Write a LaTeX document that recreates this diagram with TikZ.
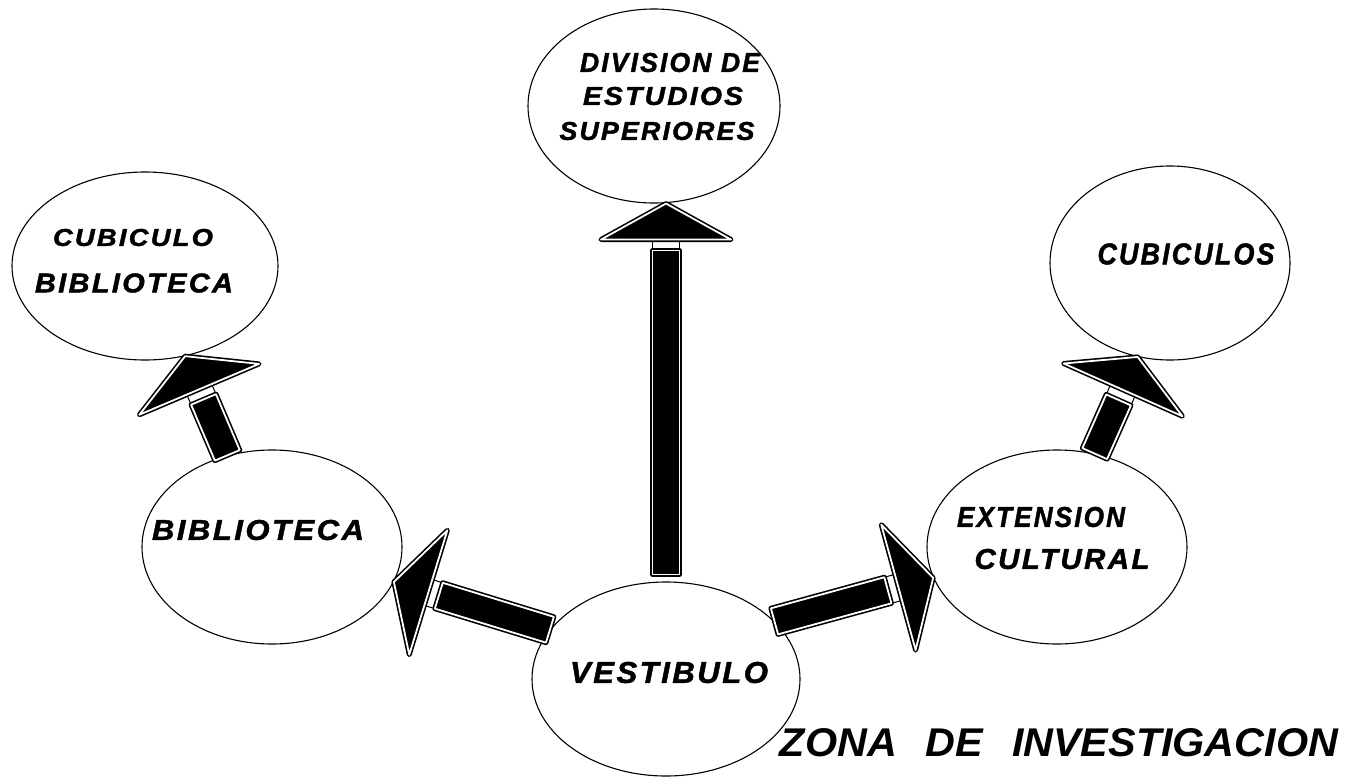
\documentclass[tikz,border=0pt]{standalone}
\usepackage{fontspec}
\setmainfont{Liberation Sans}
\usepackage{graphicx}
\usetikzlibrary{calc,shapes.geometric}
\newcommand\lbl[3]{\resizebox{#1pt}{#2pt}{\bfseries\itshape\addfontfeatures{LetterSpace=8,FakeBold=1.5}#3}}
\newcommand\blockarrow[2]{%
  \coordinate (ba-T) at (#1);
  \coordinate (ba-H) at (#2);
  \coordinate (ba-M) at ($(ba-H)!36pt!(ba-T)$);
  \coordinate (ba-N) at ($(ba-M)!11pt!(ba-T)$);
  \coordinate (ba-h1) at ($(ba-M)!65pt!90:(ba-H)$);
  \coordinate (ba-h2) at ($(ba-M)!65pt!-90:(ba-H)$);
  \coordinate (ba-m1) at ($(ba-M)!13.5pt!90:(ba-H)$);
  \coordinate (ba-m2) at ($(ba-M)!13.5pt!-90:(ba-H)$);
  \coordinate (ba-n1) at ($(ba-N)!13.5pt!90:(ba-M)$);
  \coordinate (ba-n2) at ($(ba-N)!13.5pt!-90:(ba-M)$);
  \coordinate (ba-t1) at ($(ba-T)!13.5pt!90:(ba-N)$);
  \coordinate (ba-t2) at ($(ba-T)!13.5pt!-90:(ba-N)$);
  \draw[neckbox] (ba-m1) -- (ba-n1) -- (ba-n2) -- (ba-m2) -- cycle;
  \draw[blk] (ba-n1) -- (ba-t1) -- (ba-t2) -- (ba-n2) -- cycle;
  \draw[blkline] (ba-n1) -- (ba-t1) -- (ba-t2) -- (ba-n2) -- cycle;
  \draw[blk] (ba-H) -- (ba-h1) -- (ba-h2) -- cycle;
  \draw[blkline] (ba-H) -- (ba-h1) -- (ba-h2) -- cycle;
}
\begin{document}
\begin{tikzpicture}[x=1pt,y=-1pt,
  room/.style={draw, line width=1.1pt, ellipse, inner sep=0pt},
  blk/.style={fill=black, draw=black, line width=5pt, line join=round},
  blkline/.style={draw=white, line width=1.8pt, line join=round},
  neckbox/.style={fill=white, draw=black, line width=1pt},
  txt/.style={inner sep=0pt, anchor=center}]
\useasboundingbox[fill=white] (0,0) rectangle (1352,777);
% rooms
\node[room, minimum width=252pt, minimum height=194pt] (div) at (654,106) {};
\node[room, minimum width=266pt, minimum height=188pt] (cubbib) at (145,266) {};
\node[room, minimum width=240pt, minimum height=194pt] (cubs) at (1170,263) {};
\node[room, minimum width=260pt, minimum height=194pt] (bib) at (272,547) {};
\node[room, minimum width=260pt, minimum height=194pt] (ext) at (1057,547) {};
\node[room, minimum width=268pt, minimum height=194pt] (vest) at (666,679) {};
% labels
\node[txt] (divt1) at (670,62.5) {\lbl{180}{19}{DIVISION DE}};
\node[txt] (divt2) at (663,96) {\lbl{160}{18}{ESTUDIOS}};
\node[txt] (divt3) at (657,131) {\lbl{195}{18}{SUPERIORES}};
\node[txt] (cbt1) at (133,237.5) {\lbl{160}{17}{CUBICULO}};
\node[txt] (cbt2) at (134,283) {\lbl{198}{19}{BIBLIOTECA}};
\node[txt] (cubst) at (1186,254) {\lbl{177}{21}{CUBICULOS}};
\node[txt] (bibt) at (258,530) {\lbl{212}{20}{BIBLIOTECA}};
\node[txt] (extt1) at (1041,517) {\lbl{168}{20}{EXTENSION}};
\node[txt] (extt2) at (1062,559) {\lbl{175}{20}{CULTURAL}};
\node[txt] (vestt) at (669,672.5) {\lbl{198}{21}{VESTIBULO}};
\node[txt] (zona) at (1059,742.5) {\resizebox{558pt}{28pt}{\bfseries\itshape ZONA\hspace{0.7em}DE\hspace{0.7em}INVESTIGACION}};
% arrows
\blockarrow{$(vest.north)+(0,-7)$}{vest.north |- div.south}
\blockarrow{bib.116}{cubbib.-66}
\blockarrow{ext.68}{cubs.-109}
\blockarrow{vest.157}{bib.-16}
\blockarrow{vest.28}{ext.194}
\end{tikzpicture}
\end{document}
